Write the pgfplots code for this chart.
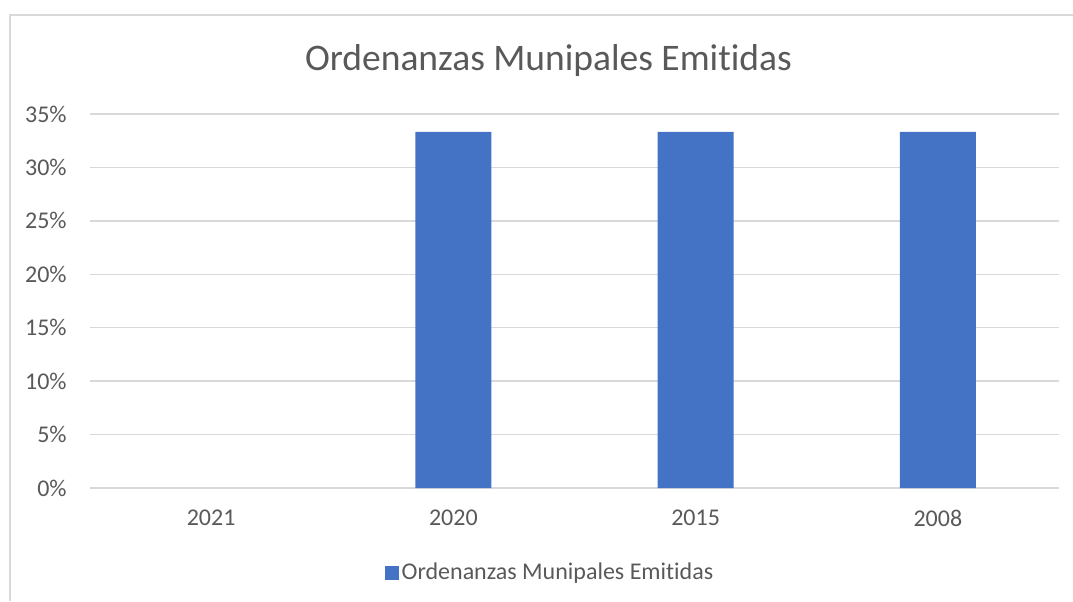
\documentclass[border=0pt]{standalone}
\usepackage{fontspec}
\setmainfont{Carlito}[Ligatures=NoCommon]
\usepackage{pgfplots}
\pgfplotsset{compat=1.18}
\definecolor{barblue}{RGB}{68,114,196}
\definecolor{gridgray}{RGB}{217,217,217}
\definecolor{txtgray}{RGB}{89,89,89}

\begin{document}
\begin{tikzpicture}
\path[use as bounding box] (0pt,0pt) rectangle (536.5pt,300.5pt);
\draw[gridgray, line width=0.75pt] (5pt,0pt) -- (5pt,293pt) -- (536.5pt,293pt);
\node[anchor=base, text=txtgray, font=\fontsize{18.75}{22}\selectfont, inner sep=0pt]
  at (274.25pt,265pt) {Ordenanzas Munipales Emitidas};
\begin{axis}[at={(45pt,56.5pt)}, anchor=south west, scale only axis,
  width=484.5pt, height=187pt,
  ybar, bar width=38pt,
  xmin=-0.5, xmax=3.5, ymin=0, ymax=35,
  xtick={0,1,2,3}, xticklabels={2021,2020,2015,2008},
  ytick={0,5,...,35},
  yticklabel={\pgfmathprintnumber{\tick}\%},
  /pgf/number format/assume math mode=true,
  axis line style={draw=none}, major tick length=0pt,
  ymajorgrids, grid style={gridgray, line width=0.75pt},
  tick label style={text=txtgray, font=\fontsize{12}{14}\selectfont},
  yticklabel style={anchor=east, inner sep=0pt, xshift=-11.5pt},
  xticklabel style={anchor=north, inner sep=0pt, yshift=-11pt},
  legend style={at={(0.4752,-0.2273)}, anchor=center, draw=none, fill=none,
    inner sep=0pt, text=txtgray, font=\fontsize{12}{14}\selectfont,
    nodes={inner sep=1.5pt}},
  legend image code/.code={\fill[barblue] (-1.5pt,-3.5pt) rectangle (5.5pt,3.5pt);},
]
% 2021 is 0 and draws no bar
\addplot[fill=barblue, draw=none] coordinates {(1,33.33) (2,33.33) (3,33.33)};
\addlegendentry{Ordenanzas Munipales Emitidas}
\end{axis}
\end{tikzpicture}
\end{document}
